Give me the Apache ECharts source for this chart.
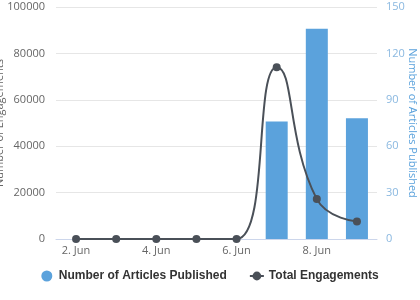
<!DOCTYPE html>
<html><head><meta charset="utf-8">
<script src="https://cdn.jsdelivr.net/npm/echarts@6/dist/echarts.min.js"></script>
<style>html,body{margin:0;padding:0;background:#fff}#c{width:420px;height:300px}</style>
</head><body><div id="c"></div>
<script>
var categories = ['2. Jun','3. Jun','4. Jun','5. Jun','6. Jun','7. Jun','8. Jun','9. Jun'];
var articles = [null, null, null, null, null, 76, 136, 78];
var engagements = [0, 0, 0, 0, 0, 74000, 17200, 7500];
var leftTicks = {min: 0, max: 100000, interval: 20000};
var rightTicks = {min: 0, max: 150, interval: 30};

var chart = echarts.init(document.getElementById('c'), null, {renderer: 'canvas'});
var labelFont = 'Open Sans';
chart.setOption({
  animation: false,
  grid: {left: 56, right: 43, top: 7, bottom: 61, containLabel: false, outerBoundsMode: 'none'},
  legend: {
    bottom: 13, left: 'center', itemGap: 22, itemWidth: 14, itemHeight: 11,
    textStyle: {fontFamily: 'Liberation Sans', fontWeight: 'bold', fontSize: 12, color: '#333'},
    data: [{name: 'Number of Articles Published', icon: 'circle'}, {name: 'Total Engagements'}]
  },
  xAxis: {
    type: 'category', data: categories,
    axisLine: {lineStyle: {color: '#ccd6eb'}},
    axisTick: {alignWithLabel: true, interval: 1, length: 6, lineStyle: {color: '#ccd6eb'}},
    axisLabel: {interval: 1, color: '#666', fontSize: 11, fontFamily: labelFont, margin: 6}
  },
  yAxis: [{
    type: 'value', min: leftTicks.min, max: leftTicks.max, interval: leftTicks.interval,
    name: 'Number of Engagements', nameLocation: 'middle', nameRotate: 90, nameGap: 51,
    nameMoveOverlap: false,
    nameTextStyle: {color: '#666', fontSize: 11, fontFamily: labelFont},
    axisLabel: {color: '#666', fontSize: 11, fontFamily: labelFont, margin: 11,
      formatter: function (v) { return String(v); }},
    splitLine: {lineStyle: {color: '#e6e6e6'}},
    axisLine: {show: false}, axisTick: {show: false}
  }, {
    type: 'value', min: rightTicks.min, max: rightTicks.max, interval: rightTicks.interval,
    position: 'right',
    name: 'Number of Articles Published', nameLocation: 'middle', nameRotate: -90, nameGap: 30,
    nameMoveOverlap: false,
    nameTextStyle: {color: '#5ba2dc', fontSize: 11, fontFamily: labelFont},
    axisLabel: {color: '#8ab8e0', fontSize: 11, fontFamily: labelFont, margin: 9},
    splitLine: {show: false},
    axisLine: {show: false}, axisTick: {show: false}
  }],
  series: [{
    name: 'Number of Articles Published', type: 'bar', yAxisIndex: 1,
    data: articles, barWidth: 22, itemStyle: {color: '#5ba2dc'}
  }, {
    name: 'Total Engagements', type: 'line', yAxisIndex: 0,
    data: engagements, smooth: 0.5, symbol: 'circle', symbolSize: 8,
    lineStyle: {color: '#4a5058', width: 2}, itemStyle: {color: '#4a5058'}
  }]
});
</script></body></html>
